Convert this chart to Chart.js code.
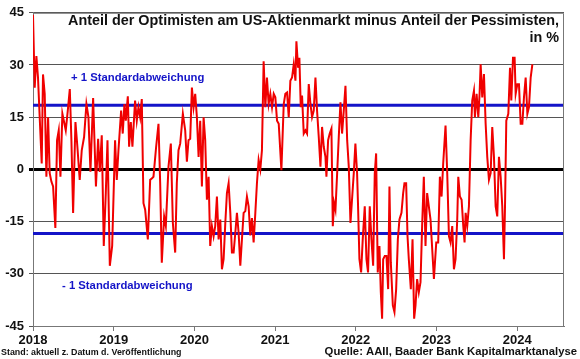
<!DOCTYPE html>
<html><head><meta charset="utf-8">
<script src="https://cdn.jsdelivr.net/npm/chart.js@4.4.0/dist/chart.umd.min.js"></script>
<style>html,body{margin:0;padding:0;background:#fff}#wrap{width:580px;height:359px}</style>
</head><body><div id="wrap"><canvas id="c" width="580" height="359"></canvas></div>
<script>
// Date as decimal year
const years = [
2018.000,2018.021,2018.042,2018.062,2018.083,2018.108,2018.124,2018.145,2018.166,2018.187,2018.207,2018.228,2018.249,2018.277,2018.298,2018.319,2018.340,2018.364,2018.385,2018.406,2018.431,2018.456,2018.476,2018.497,2018.526,2018.550,2018.579,2018.604,2018.633,2018.662,2018.687,2018.712,2018.745,2018.780,2018.807,2018.827,2018.852,2018.877,2018.902,2018.923,2018.952,2018.981,
2019.017,2019.038,2019.059,2019.092,2019.112,2019.133,2019.150,2019.175,2019.191,2019.212,2019.232,2019.265,2019.286,2019.307,2019.328,2019.348,2019.369,2019.390,2019.423,2019.452,2019.472,2019.493,2019.526,2019.555,2019.576,2019.596,2019.625,2019.646,2019.679,2019.708,2019.733,2019.762,2019.782,2019.803,2019.824,2019.857,2019.886,2019.907,2019.927,2019.948,
2019.969,2019.990,2020.010,2020.031,2020.052,2020.072,2020.093,2020.114,2020.134,2020.155,2020.176,2020.196,2020.217,2020.238,2020.258,2020.279,2020.300,2020.321,2020.341,2020.362,2020.383,2020.403,2020.424,2020.445,2020.465,2020.486,2020.507,2020.527,2020.548,2020.569,2020.589,2020.610,2020.631,2020.651,2020.672,2020.693,2020.713,2020.734,2020.755,2020.775,2020.796,2020.817,2020.837,2020.858,2020.879,2020.899,2020.920,2020.941,
2020.962,2020.983,2021.003,2021.024,2021.045,2021.078,2021.107,2021.127,2021.148,2021.169,2021.189,2021.210,2021.231,2021.252,2021.264,2021.285,2021.301,2021.318,2021.334,2021.355,2021.376,2021.396,2021.417,2021.438,2021.458,2021.479,2021.500,2021.520,2021.541,2021.562,2021.582,2021.603,2021.624,2021.636,2021.657,2021.677,2021.698,2021.715,2021.731,2021.748,2021.769,2021.789,2021.810,2021.830,2021.851,2021.872,2021.893,2021.913,2021.934,
2021.975,2021.995,2022.016,2022.028,2022.045,2022.066,2022.086,2022.111,2022.132,2022.152,2022.173,2022.194,2022.215,2022.235,2022.252,2022.272,2022.293,2022.310,2022.326,2022.339,2022.359,2022.380,2022.401,2022.417,2022.434,2022.459,2022.479,2022.500,2022.521,2022.541,2022.566,2022.587,2022.603,2022.624,2022.641,2022.657,2022.682,2022.703,2022.723,2022.740,2022.760,2022.781,2022.802,2022.822,2022.843,2022.864,2022.884,2022.905,2022.926,
2022.968,2022.997,2023.021,2023.042,2023.063,2023.083,2023.112,2023.133,2023.154,2023.174,2023.195,2023.216,2023.236,2023.257,2023.270,2023.290,2023.311,2023.332,2023.348,2023.361,2023.381,2023.402,2023.423,2023.443,2023.464,2023.476,2023.497,2023.518,2023.534,2023.547,2023.567,2023.588,2023.609,2023.629,2023.650,2023.671,2023.691,2023.712,2023.733,2023.753,2023.774,2023.795,2023.815,2023.836,2023.849,2023.865,2023.890,2023.911,2023.927,2023.948,2023.968,2023.981,
2024.002,2024.022,2024.043,2024.064,2024.084,2024.105,2024.126,2024.146,2024.167,2024.188
];
// Bull-bear spread in percentage points
const spread = [
44.4,23.5,32.6,26.4,15,1.7,27.3,21.7,-2.1,15,-1.1,-3.5,-4.9,-16.8,8.4,11.2,-2.1,16,13.6,11.2,16.9,23.1,8.4,-12.5,13.6,6.5,-3,5.5,9.3,18.8,15,-0.7,20.5,-4.9,8.8,-0.7,9.8,-22,-6.8,8.4,-27.7,-22,
8.4,-3,5.5,16.9,10.3,18.8,14,21,6.5,13.6,6.5,19.8,14,17.9,15,20.2,-9.7,-11.6,-20.1,-3,-2.6,-2.1,6.5,13.1,-4,-26.8,-13.5,-16.3,0.8,7.4,-15.4,-23.9,-4,5.5,7.4,16,11.2,2.2,8.4,8.8,
23.5,17.9,21.7,15,3.6,14,-4.9,15,8.4,-8.7,-2.1,-22,-16.3,-19.2,-16.3,-7.8,-20.1,-14.4,-28.7,-25.8,-15.4,-6.8,-4,-12.5,-23.9,-23.9,-18.2,-12.5,-18.2,-27.7,-20.1,-12.5,-12,-7.8,-10.6,-19,-14,-21,-12.5,-4,2.7,0,5.5,31.1,17.9,26.4,18.8,21.7,
17.9,21.7,20.7,14,13.1,-0.2,18.8,21.7,22.1,15,25.5,26.4,30.2,25.5,36.8,29.2,32.1,17.9,21.2,10.3,11.2,10.3,24.5,18.8,15,16.9,26.4,16.9,9.3,0.8,12.2,6.5,3.6,-2.1,8.4,10.3,11.7,-16.3,-9.7,-11.6,-1.1,9.3,19.3,10.3,16.9,24,8.4,0.8,-15.4,
-1.1,7.4,-1.1,-10.6,-25.8,-29.6,-20.1,-10.6,-25.8,-29.6,-10.6,-20.1,-27.7,-1.1,4.6,-29.6,-22,-35.3,-42.9,-25.8,-24.9,-24.9,-34.4,-4.9,-26.8,-39.1,-41,-34.4,-20.1,-14.4,-12.5,-6.8,-4,-4,-19.2,-25.8,-34.4,-20.1,-42.9,-39.1,-31.5,-35.3,-32.4,-16.3,-2.1,-22,-6.8,-10.6,-14.4,
-31.5,-21,-21,-2.1,-7.8,1.7,12.6,-1.1,-19.2,-21,-16.3,-28.7,-25.8,-14.4,-2.1,-7.8,-8.7,-16.3,-21,-12.5,-16.3,-10.6,8.4,19.8,22.6,15,21.7,15,21.7,30.2,20.7,27.4,13.1,3.6,-3,-1.1,12.2,3.6,-10.6,-13.5,3.6,-2.1,-10.6,-25.8,-10.6,14,16,29.2,19.8,32.1,32.1,21.7,
24.5,24.5,13.1,13.1,20.7,26.4,16,17.9,26.4,30.2
];
const yearTicks = [2018,2019,2020,2021,2022,2023,2024];
const yTicks = [-45,-30,-15,0,15,30,45];
const stdUpper = 18.4;
const stdLower = -18.4;
const xMin = 2018, xMax = 2024.58;

const FONT = "'Liberation Sans', Arial, sans-serif";
const BLUE = '#1414c8';

const textPlugin = {
  id: 'texts',
  afterDraw(chart) {
    const ctx = chart.ctx, a = chart.chartArea;
    ctx.save();
    // plot frame (top/right)
    ctx.strokeStyle = '#777'; ctx.lineWidth = 1;
    ctx.beginPath();
    ctx.moveTo(a.left, a.top + 0.5); ctx.lineTo(a.right - 0.5, a.top + 0.5); ctx.lineTo(a.right - 0.5, a.bottom);
    ctx.stroke();
    // title
    ctx.fillStyle = '#111';
    ctx.font = 'bold 14.4px ' + FONT;
    ctx.textAlign = 'right'; ctx.textBaseline = 'middle';
    ctx.fillText('Anteil der Optimisten am US-Aktienmarkt minus Anteil der Pessimisten,', a.right - 5, 21);
    ctx.fillText('in %', a.right - 5, 38);
    // std labels
    ctx.fillStyle = BLUE;
    ctx.font = 'bold 11.3px ' + FONT;
    ctx.textAlign = 'left';
    ctx.fillText('+ 1 Standardabweichung', 71, 78);
    ctx.fillText('- 1 Standardabweichung', 62, 286);
    // footnotes
    ctx.fillStyle = '#111';
    ctx.font = 'bold 8.9px ' + FONT;
    ctx.textAlign = 'left';
    ctx.fillText('Stand: aktuell z. Datum d. Veröffentlichung', 1, 353);
    ctx.font = 'bold 11.3px ' + FONT;
    ctx.textAlign = 'right';
    ctx.fillText('Quelle: AAII, Baader Bank Kapitalmarktanalyse', 577, 352);
    ctx.restore();
  }
};

const lineData = years.map((x, i) => ({x, y: spread[i]}));

new Chart(document.getElementById('c'), {
  type: 'line',
  data: {
    datasets: [
      { data: lineData, borderColor: '#f00000', borderWidth: 2, pointRadius: 0, tension: 0, order: 0 },
      { data: [{x: xMin, y: stdUpper}, {x: xMax, y: stdUpper}], borderColor: BLUE, borderWidth: 3, pointRadius: 0, order: 1 },
      { data: [{x: xMin, y: stdLower}, {x: xMax, y: stdLower}], borderColor: BLUE, borderWidth: 3, pointRadius: 0, order: 1 }
    ]
  },
  options: {
    responsive: false,
    animation: false,
    devicePixelRatio: 1,
    layout: { padding: { top: 9, right: 16, left: 0, bottom: 0 } },
    plugins: { legend: { display: false }, tooltip: { enabled: false } },
    scales: {
      x: {
        type: 'linear', min: xMin, max: xMax,
        afterBuildTicks: s => { s.ticks = yearTicks.map(v => ({value: v})); },
        afterFit: s => { s.height = 33; },
        grid: { drawOnChartArea: false, drawTicks: true, tickLength: 5, color: '#777' },
        border: { color: '#777', width: 1 },
        ticks: { color: '#111', font: { family: FONT, weight: 'bold', size: 13 }, padding: 2, maxRotation: 0, callback: v => String(v) }
      },
      y: {
        min: -45, max: 45,
        afterBuildTicks: s => { s.ticks = yTicks.map(v => ({value: v})); },
        afterFit: s => { s.width = 33; },
        grid: {
          color: c => (c.tick && c.tick.value === 0) ? '#000' : '#555',
          lineWidth: c => (c.tick && c.tick.value === 0) ? 3 : 1,
          drawTicks: true, tickLength: 4
        },
        border: { color: '#777', width: 1 },
        ticks: { color: '#111', font: { family: FONT, weight: 'bold', size: 13 }, padding: 5 }
      }
    }
  },
  plugins: [textPlugin]
});
</script>
</body></html>
